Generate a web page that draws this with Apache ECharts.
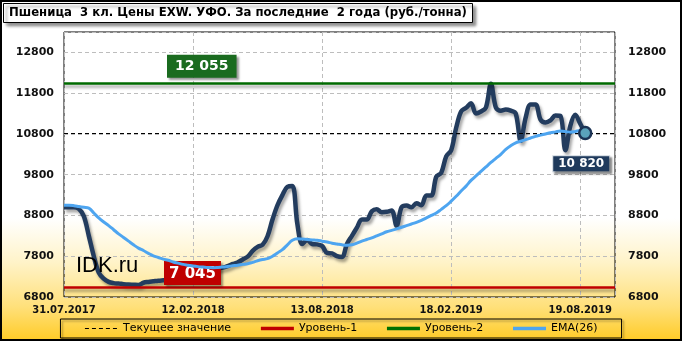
<!DOCTYPE html>
<html><head><meta charset="utf-8">
<script src="https://cdn.jsdelivr.net/npm/echarts@6/dist/echarts.min.js"></script>
<style>html,body{margin:0;padding:0;background:#fff}#c{width:682px;height:341px}</style>
</head><body><div id="c"></div>
<script>
const titleText = 'Пшеница  3 кл. Цены EXW. УФО. За последние  2 года (руб./тонна)';
const tickLabels = ['31.07.2017', '12.02.2018', '13.08.2018', '18.02.2019', '19.08.2019'];
const legendNames = ['Текущее значение', 'Уровень-1', 'Уровень-2', 'EMA(26)'];
const price = [
  9000, 9000, 9000, 8960, 8780, 8300, 7800, 7400, 7250, 7170,
  7140, 7130, 7115, 7105, 7100, 7095, 7150, 7170, 7185, 7200,
  7210, 7220, 7240, 7260, 7290, 7320, 7350, 7380, 7410, 7440,
  7470, 7500, 7520, 7560, 7610, 7650, 7720, 7790, 7930, 8030,
  8080, 8290, 8700, 9050, 9300, 9500, 9520, 8600, 8100, 8200,
  8100, 8090, 8050, 7880, 7870, 7800, 7780, 8100, 8300, 8500,
  8700, 8700, 8900, 8950, 8880, 8890, 8920, 8550, 9000, 9045,
  9000, 9100, 9050, 9290, 9290, 9750, 9850, 10250, 10400, 10950,
  11350, 11440, 11550, 11300, 11350, 11450, 12030, 11450, 11370, 11400,
  11370, 11300, 10630, 11200, 11520, 11520, 11150, 11080, 11130, 11250,
  11240, 10400, 11000, 11270, 11050, 10820
];
const ema = [
  9050, 9050, 9040, 9020, 9000, 8980, 8860, 8740, 8640, 8550,
  8450, 8350, 8260, 8170, 8080, 8000, 7940, 7870, 7810, 7770,
  7730, 7700, 7660, 7630, 7600, 7580, 7560, 7545, 7535, 7525,
  7520, 7525, 7535, 7550, 7565, 7580, 7600, 7615, 7650, 7690,
  7720, 7740, 7800, 7880, 7960, 8080, 8190, 8230, 8220, 8210,
  8200, 8190, 8170, 8150, 8120, 8100, 8080, 8070, 8080, 8120,
  8170, 8210, 8250, 8300, 8350, 8400, 8435, 8470, 8510, 8550,
  8590, 8630, 8680, 8740, 8800, 8860, 8950, 9040, 9150, 9270,
  9400, 9520, 9660, 9770, 9880, 9990, 10100, 10200, 10300, 10420,
  10510, 10580, 10620, 10660, 10700, 10740, 10770, 10800, 10830, 10850,
  10870, 10860, 10840, 10860, 10885, 10890
];
const currentValue = 10820;
const level1 = 7045;
const level2 = 12055;

const fmt = v => String(v).replace(/\B(?=(\d{3})+(?!\d))/g, ' ');
const lastIdx = price.length - 1;
const FONT = 'DejaVu Sans';

const chart = echarts.init(document.getElementById('c'), null, {renderer: 'canvas'});
const yAxisBase = {
  type: 'value', min: 6800, max: 13300, interval: 1000,
  axisLine: {show: false}, axisTick: {show: false},
  axisLabel: {showMaxLabel: false, color: '#111', fontFamily: FONT, fontWeight: 'bold', fontSize: 11,
    formatter: v => String(v)}
};
chart.setOption({
  animation: false,
  backgroundColor: 'transparent',
  title: {
    text: titleText, left: 3, top: 3,
    padding: [4, 6, 4, 6],
    backgroundColor: '#fff', borderColor: '#000', borderWidth: 1,
    shadowColor: 'rgba(0,0,0,0.45)', shadowOffsetX: 3, shadowOffsetY: 3, shadowBlur: 3,
    textStyle: {fontFamily: FONT, fontWeight: 'bold', fontSize: 11.7, color: '#000'}
  },
  graphic: [
    {type: 'rect', z: -10, silent: true, shape: {x: 1, y: 1, width: 680, height: 339},
     style: {
       fill: new echarts.graphic.LinearGradient(0, 0, 0, 1, [
         {offset: 0, color: '#ffffff'}, {offset: 0.64, color: '#ffffff'},
         {offset: 0.77, color: '#fff3c8'}, {offset: 0.9, color: '#ffe07a'},
         {offset: 1, color: '#ffcb25'}]),
       stroke: '#000', lineWidth: 2}},
    {type: 'text', left: 76, top: 255, silent: true, z: 5,
     style: {text: 'IDK.ru', font: '22px "Liberation Sans"', fill: '#000'}}
  ],
  legend: {
    data: [
      {name: legendNames[0], lineStyle: {width: 1}},
      {name: legendNames[1]},
      {name: legendNames[2]},
      {name: legendNames[3]}
    ],
    bottom: 3, left: 'center',
    itemWidth: 33, itemHeight: 2, itemGap: 28,
    padding: [4, 24, 4, 24],
    borderColor: '#000', borderWidth: 1,
    shadowColor: 'rgba(0,0,0,0.35)', shadowOffsetX: 2, shadowOffsetY: 2, shadowBlur: 2,
    itemStyle: {color: 'transparent', borderWidth: 0, opacity: 0},
    lineStyle: {width: 3.5},
    textStyle: {fontFamily: FONT, fontSize: 11, color: '#000'}
  },
  grid: {left: 64, right: 67, top: 32, bottom: 44, show: true, borderColor: '#000', borderWidth: 1, containLabel: false},
  xAxis: {
    type: 'value', min: 0, max: 111, interval: 26,
    axisLine: {show: false}, axisTick: {show: false},
    splitLine: {show: true, lineStyle: {color: '#bdbdbd', type: [4, 3]}},
    axisLabel: {showMaxLabel: false, margin: 8, color: '#111', fontFamily: FONT, fontWeight: 'bold', fontSize: 10,
      formatter: v => tickLabels[Math.round(v / 26)] || ''}
  },
  yAxis: [
    Object.assign({}, yAxisBase, {position: 'left', splitLine: {show: true, lineStyle: {color: '#bdbdbd', type: [4, 3]}},
      axisLabel: Object.assign({}, yAxisBase.axisLabel, {margin: 10})}),
    Object.assign({}, yAxisBase, {position: 'right', splitLine: {show: false},
      axisLabel: Object.assign({}, yAxisBase.axisLabel, {margin: 13})})
  ],
  series: [
    {
      name: 'Цена', type: 'line', smooth: 0.35, symbol: 'none', z: 3,
      data: price.map((v, i) => [i, v]),
      lineStyle: {color: '#233c5e', width: 4.5, shadowColor: 'rgba(0,0,0,0.35)', shadowBlur: 3, shadowOffsetX: 2, shadowOffsetY: 3},
      markPoint: {
        symbol: 'circle', symbolSize: 12, z: 10,
        itemStyle: {color: '#5aa2bb', borderColor: '#1b3355', borderWidth: 2.5},
        label: {show: true, position: 'bottom', distance: 16, offset: [-4, 0],
          formatter: p => fmt(p.value),
          backgroundColor: '#1f3a5c', borderColor: '#d0d8e0', borderWidth: 1,
          padding: [2, 5, 1, 5], color: '#fff', fontFamily: FONT, fontWeight: 'bold', fontSize: 12,
          shadowColor: 'rgba(0,0,0,0.4)', shadowOffsetX: 2, shadowOffsetY: 2, shadowBlur: 2},
        data: [{coord: [lastIdx, price[lastIdx]], value: currentValue}]
      }
    },
    {
      name: 'Текущее значение', type: 'line', symbol: 'none', data: [],
      lineStyle: {color: '#000', width: 1, type: [4, 3]},
      markLine: {silent: true, symbol: ['none', 'none'], z: 4,
        lineStyle: {color: '#000', width: 1, type: [4, 3]},
        label: {show: false},
        data: [{yAxis: currentValue}]}
    },
    {
      name: 'Уровень-1', type: 'line', symbol: 'none', data: [],
      lineStyle: {color: '#c00000', width: 3},
      markLine: {silent: true, symbol: ['none', 'none'], z: 4,
        lineStyle: {color: '#c00000', width: 2.5, type: 'solid', shadowColor: 'rgba(0,0,0,0.35)', shadowBlur: 3, shadowOffsetY: 3},
        label: {show: true, position: 'insideStartTop', distance: 2, offset: [98, 0],
          formatter: p => fmt(p.value),
          backgroundColor: '#bf0000', padding: [4, 5, 2, 5], lineHeight: 18, color: '#fff',
          fontFamily: FONT, fontWeight: 'bold', fontSize: 15,
          shadowColor: 'rgba(0,0,0,0.4)', shadowOffsetX: 2, shadowOffsetY: 2, shadowBlur: 2},
        data: [{yAxis: level1}]}
    },
    {
      name: 'Уровень-2', type: 'line', symbol: 'none', data: [],
      lineStyle: {color: '#007000', width: 3},
      markLine: {silent: true, symbol: ['none', 'none'], z: 4,
        lineStyle: {color: '#006a00', width: 2.5, type: 'solid', shadowColor: 'rgba(0,0,0,0.35)', shadowBlur: 3, shadowOffsetY: 3},
        label: {show: true, position: 'insideStartTop', distance: 5, offset: [98, 0],
          formatter: p => fmt(p.value),
          backgroundColor: '#1a6b1f', padding: [4, 8, 3, 8], lineHeight: 16, color: '#fff',
          fontFamily: FONT, fontWeight: 'bold', fontSize: 14,
          shadowColor: 'rgba(0,0,0,0.4)', shadowOffsetX: 2, shadowOffsetY: 2, shadowBlur: 2},
        data: [{yAxis: level2}]}
    },
    {
      name: 'EMA(26)', type: 'line', smooth: 0.4, symbol: 'none', z: 4,
      data: ema.map((v, i) => [i, v]),
      lineStyle: {color: '#4ea5f0', width: 3}
    }
  ]
});
</script></body></html>
